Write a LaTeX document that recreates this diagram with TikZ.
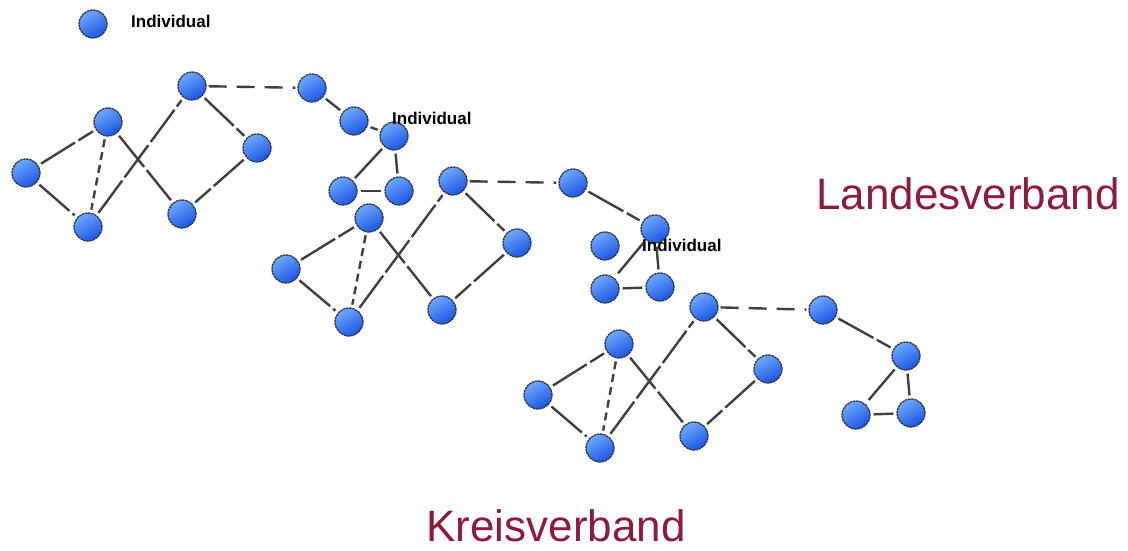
\documentclass[tikz,border=0pt]{standalone}
\usepackage{fontspec}
\setmainfont{Liberation Sans}
\definecolor{ballA}{HTML}{6FA8FF}
\definecolor{ballB}{HTML}{1A55E0}
\definecolor{rim}{HTML}{2F3848}
\definecolor{edgec}{HTML}{404040}
\definecolor{maroon}{HTML}{8E1B3C}
\tikzset{
  ind/.style={circle, minimum size=28pt, inner sep=0pt, top color=ballA, bottom color=ballB, shading angle=30, draw=rim, line width=1.3pt, dash pattern=on 2.5pt off 0.7pt},
  lnk/.style={draw=edgec, line width=2.4pt, shorten <=3pt, shorten >=3pt, dash pattern=on 40pt off 4pt},
  dlnk/.style={draw=edgec, line width=2.4pt, shorten <=3pt, shorten >=3pt, dash pattern=on 8pt off 5pt},
  llnk/.style={draw=edgec, line width=2.4pt, shorten <=2pt, shorten >=2pt, dash pattern=on 18pt off 10pt},
  lbl/.style={font=\fontsize{17}{17}\selectfont\bfseries, inner sep=0pt, anchor=west},
  big/.style={font=\fontsize{44}{44}\selectfont, text=maroon, inner sep=0pt, anchor=base}
}
\begin{document}
\begin{tikzpicture}[x=1pt,y=-1pt]
\useasboundingbox (0,0) rectangle (1128,551);
% legend
\node[ind] (L0) at (93,24) {};
\node[lbl] (L0t) at (131,21) {Individual};
% cluster 1
\node[ind] (A1) at (192,86) {};
\node[ind] (A2) at (108,122) {};
\node[ind] (A3) at (26,173) {};
\node[ind] (A4) at (88,227) {};
\node[ind] (A5) at (182,214) {};
\node[ind] (A6) at (257,148) {};
\node[ind] (A7) at (312,88) {};
\node[ind] (A8) at (354,121) {};
\node[ind] (A9) at (394,136) {};
\node[ind] (A10) at (343,191) {};
\node[ind] (A11) at (399,191) {};
\node[lbl] (A9t) at (392,118) {Individual};
% cluster 2
\node[ind] (B1) at (453,181) {};
\node[ind] (B2) at (369,218) {};
\node[ind] (B3) at (286,269) {};
\node[ind] (B4) at (349,322) {};
\node[ind] (B5) at (442,310) {};
\node[ind] (B6) at (517,243) {};
\node[ind] (B7) at (573,183) {};
\node[ind] (B8) at (655,229) {};
\node[ind] (B9) at (605,246) {};
\node[ind] (B10) at (605,289) {};
\node[ind] (B11) at (660,287) {};
\node[lbl] (B8t) at (642,245) {Individual};
% cluster 3
\node[ind] (C1) at (704,307) {};
\node[ind] (C2) at (619,344) {};
\node[ind] (C3) at (538,395) {};
\node[ind] (C4) at (600,448) {};
\node[ind] (C5) at (694,436) {};
\node[ind] (C6) at (768,369) {};
\node[ind] (C7) at (823,310) {};
\node[ind] (C8) at (906,356) {};
\node[ind] (C9) at (856,415) {};
\node[ind] (C10) at (911,413) {};
% edges
\foreach \p in {A,B,C}{
  \draw[lnk] (\p3) -- (\p2);
  \draw[lnk] (\p3) -- (\p4);
  \draw[dlnk] (\p2) -- (\p4);
  \draw[lnk] (\p2) -- (\p5);
  \draw[lnk] (\p4) -- (\p1);
  \draw[lnk] (\p1) -- (\p6);
  \draw[lnk] (\p6) -- (\p5);
  \draw[llnk] (\p1) -- (\p7);
}
\draw[lnk] (A7) -- (A8);
\draw[lnk] (A8) -- (A9);
\draw[lnk] (A9) -- (A10);
\draw[lnk] (A9) -- (A11);
\draw[lnk] (A10) -- (A11);
\draw[lnk] (B7) -- (B8);
\draw[lnk] (B8) -- (B10);
\draw[lnk] (B8) -- (B11);
\draw[lnk] (B10) -- (B11);
\draw[lnk] (C7) -- (C8);
\draw[lnk] (C8) -- (C9);
\draw[lnk] (C8) -- (C10);
\draw[lnk] (C9) -- (C10);
% titles
\node[big] (land) at (968,209) {Landesverband};
\node[big] (kreis) at (556,541) {Kreisverband};
\end{tikzpicture}
\end{document}
